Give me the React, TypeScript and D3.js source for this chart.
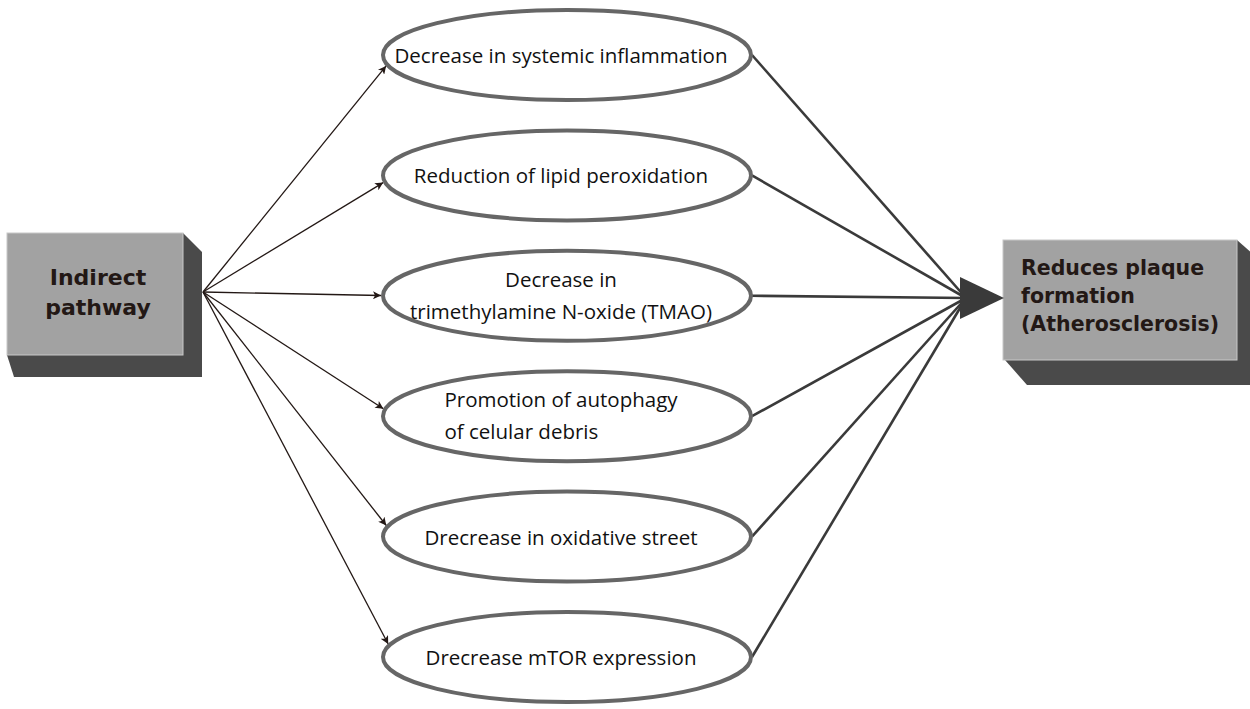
import React, { useRef, useEffect } from "react";
import * as d3 from "d3";

// node labels (one entry per ellipse, split into lines)
const sourceLabel = ["Indirect", "pathway"];
const targetLabel = ["Reduces plaque", "formation", "(Atherosclerosis)"];
const nodeLabels: string[][] = [
  ["Decrease in systemic inflammation"],
  ["Reduction of lipid peroxidation"],
  ["Decrease in", "trimethylamine N-oxide (TMAO)"],
  ["Promotion of autophagy", "of celular debris"],
  ["Drecrease in oxidative street"],
  ["Drecrease mTOR expression"],
];
const nodeIds = nodeLabels.map((d, i) => "n" + i);

const W = 1250;
const H = 709;

export default function App() {
  const svgRef = useRef<SVGSVGElement>(null);

  useEffect(() => {
    const svg = d3.select(svgRef.current);
    svg.selectAll("*").remove();

    const cx = 567, rx = 184, ry = 45;
    const y = d3.scalePoint<string>().domain(nodeIds).range([55, 657]);

    const src = { x: 203, y: 292 };
    const hub = { x: 966, y: 298 };

    const textColor = "#231815";

    svg.append("defs").append("marker")
      .attr("id", "arr")
      .attr("viewBox", "0 0 10 10")
      .attr("refX", 10).attr("refY", 5)
      .attr("markerWidth", 10).attr("markerHeight", 8)
      .attr("markerUnits", "userSpaceOnUse")
      .attr("orient", "auto")
      .append("path").attr("d", "M0,0L10,5L0,10L2.5,5Z").attr("fill", "#231815");

    // left box
    const lb = { x: 7, y: 233, w: 176, h: 122 };
    svg.append("polygon")
      .attr("points", [[lb.x + lb.w, lb.y], [lb.x + lb.w + 19, lb.y + 19], [lb.x + lb.w + 19, lb.y + lb.h + 22], [lb.x + 7, lb.y + lb.h + 22], [lb.x, lb.y + lb.h]].map(p => p.join(",")).join(" "))
      .attr("fill", "#4a4a4a");
    svg.append("rect").attr("x", lb.x).attr("y", lb.y).attr("width", lb.w).attr("height", lb.h)
      .attr("fill", "#a2a2a2").attr("stroke", "#c8c8c8").attr("stroke-width", 1);
    svg.append("text")
      .attr("y", 285)
      .attr("text-anchor", "middle")
      .attr("font-family", "DejaVu Sans").attr("font-weight", "bold").attr("font-size", 22)
      .attr("fill", textColor)
      .selectAll("tspan").data(sourceLabel).join("tspan")
      .attr("x", lb.x + lb.w / 2 + 3).attr("dy", (d, i) => (i === 0 ? 0 : 30))
      .text(d => d);

    // right box
    const rb = { x: 1003, y: 240, w: 234, h: 120 };
    svg.append("polygon")
      .attr("points", [[rb.x + rb.w, rb.y], [rb.x + rb.w + 25, rb.y + 22], [rb.x + rb.w + 25, rb.y + rb.h + 25], [rb.x + 24, rb.y + rb.h + 25], [rb.x + 2, rb.y + rb.h]].map(p => p.join(",")).join(" "))
      .attr("fill", "#4a4a4a");
    svg.append("rect").attr("x", rb.x).attr("y", rb.y).attr("width", rb.w).attr("height", rb.h)
      .attr("fill", "#a2a2a2").attr("stroke", "#c8c8c8").attr("stroke-width", 1);
    svg.append("text")
      .attr("y", 275)
      .attr("font-family", "DejaVu Sans").attr("font-weight", "bold").attr("font-size", 20.5)
      .attr("fill", textColor)
      .selectAll("tspan").data(targetLabel).join("tspan")
      .attr("x", 1021).attr("dy", (d, i) => (i === 0 ? 0 : 28))
      .text(d => d);

    // arrows from source to ellipses: aimed just inside the left edge, clipped to the outline
    const R = rx + 2, Ry = ry + 2;
    const hit = (cy: number) => {
      const ax = cx - rx + 12, ay = cy;
      const dx = ax - src.x, dy = ay - src.y;
      let lo = 0, hi = 1;
      for (let k = 0; k < 40; k++) {
        const t = (lo + hi) / 2;
        const px = src.x + dx * t, py = src.y + dy * t;
        const v = ((px - cx) / R) ** 2 + ((py - cy) / Ry) ** 2;
        if (v > 1) lo = t; else hi = t;
      }
      return [src.x + dx * lo, src.y + dy * lo];
    };

    svg.append("g").selectAll("line").data(nodeIds).join("line")
      .attr("x1", src.x).attr("y1", src.y)
      .attr("x2", d => hit(y(d)!)[0]).attr("y2", d => hit(y(d)!)[1])
      .attr("stroke", "#231815").attr("stroke-width", 1.3)
      .attr("marker-end", "url(#arr)");

    // lines from ellipses to the hub arrow
    svg.append("g").selectAll("line").data(nodeIds).join("line")
      .attr("x1", cx + rx + 1).attr("y1", d => y(d)!)
      .attr("x2", hub.x).attr("y2", hub.y)
      .attr("stroke", "#3a3a3a").attr("stroke-width", 2.6);

    svg.append("polygon")
      .attr("points", [[hub.x - 6, hub.y - 21], [rb.x + 1, hub.y], [hub.x - 6, hub.y + 21]].map(p => p.join(",")).join(" "))
      .attr("fill", "#3a3a3a");

    // ellipses
    const g = svg.append("g").selectAll("g").data(nodeIds).join("g")
      .attr("transform", d => `translate(${cx},${y(d)})`);
    g.append("ellipse").attr("rx", rx).attr("ry", ry)
      .attr("fill", "white").attr("stroke", "#666").attr("stroke-width", 4);

    g.each(function (d, i) {
      const lines = nodeLabels[i];
      const gap = 32;
      const t = d3.select(this).append("text")
        .attr("font-family", "Open Sans").attr("font-size", 20.5)
        .attr("fill", "#111");
      const top = lines.length > 1 ? -9 : 8;
      const spans = lines.map((s, j) =>
        t.append("tspan").attr("x", -6).attr("y", top + j * gap)
          .attr("text-anchor", "middle").text(s));
      // when the first line is the longest, the following lines align to its left edge
      if (spans.length > 1) {
        const w = spans.map(s => (s.node() as SVGTextContentElement).getComputedTextLength());
        if (w[0] >= d3.max(w)!) {
          spans.forEach(s => s.attr("text-anchor", "start").attr("x", -6 - w[0] / 2));
        }
      }
    });
  }, []);

  return (
    <svg ref={svgRef} width={W} height={H}
      style={{ position: "absolute", left: 0, top: 0, display: "block", background: "white" }} />
  );
}
